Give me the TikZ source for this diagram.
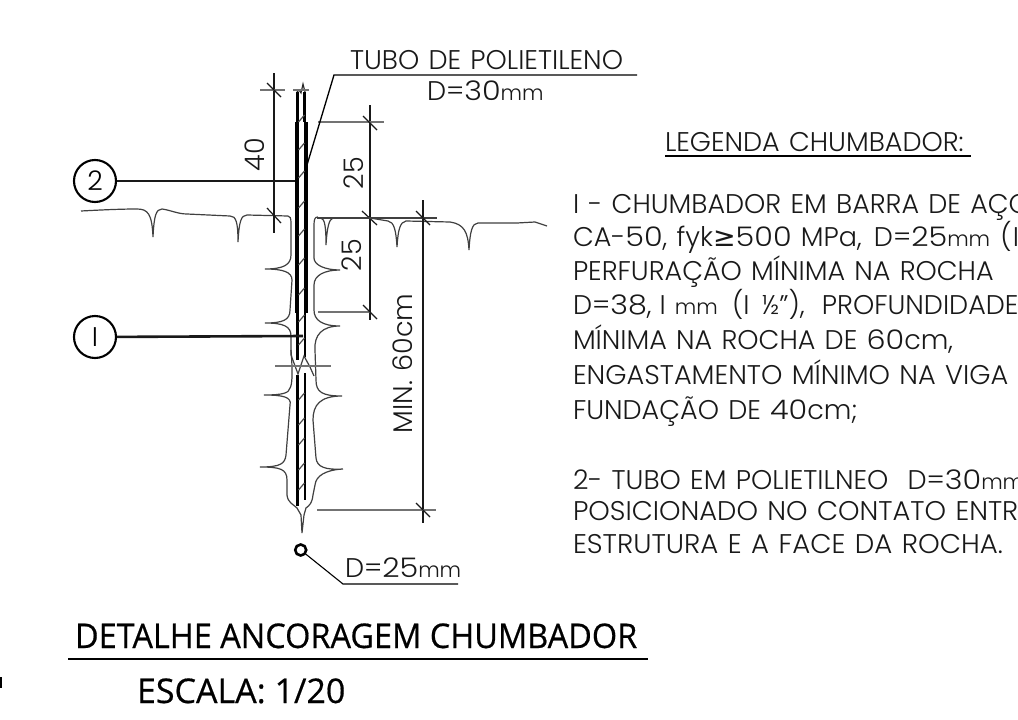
\documentclass[tikz,border=0pt]{standalone}
\usepackage{fontspec}
\usepackage{graphicx}
\setmainfont{Poppins Light}[WordSpace=1.25]
\newfontfamily\titlefont[FakeBold=0.5]{Open Sans}
\newfontfamily\symfont{DejaVu Sans}
\newcommand{\dg}[1]{\scalebox{1.12}[1]{#1}}
\newcommand{\smm}{{\fontsize{21}{21}\selectfont mm}}
\newcommand{\gesym}{{\symfont ≥}}
\tikzset{
  cad/.style={anchor=base west,inner sep=0pt,outer sep=0pt,font=\fontsize{27}{27}\selectfont,text=black!90,transform shape},
  ttl/.style={anchor=base west,inner sep=0pt,outer sep=0pt,font=\titlefont\fontsize{34}{34}\selectfont,text=black,transform shape},
  thinln/.style={line width=1.1pt,black!85},
  greyln/.style={line width=1.3pt,black!55},
  dimln/.style={line width=1.2pt,black!90},
  outln/.style={line width=1.2pt,black!75},
  heavy/.style={line width=3.6pt,black},
  mid/.style={line width=2.4pt,black},
  lead/.style={line width=2.6pt,black!90},
  hatch/.style={line width=1.2pt,black!70},
  callout/.style={circle,draw=black,line width=2.1pt,minimum size=42pt,inner sep=0pt,font=\fontsize{27}{27}\selectfont}
}
\begin{document}
\begin{tikzpicture}[x=1pt,y=-1pt]
\useasboundingbox (0,0) rectangle (1018,720);
\clip (0,0) rectangle (1018,720);
\fill[white] (0,0) rectangle (1018,720);
% stray mark at left edge
\fill[black] (0,677) rectangle (1.5,688);
% bar
\draw[mid] (297.5,92) -- (297.5,122);
\draw[mid] (304.5,92) -- (304.5,122);
\draw[thinln] (297,92) -- (299,90) -- (301,93) -- (303,84) -- (305,92);
\draw[heavy] (296.8,122) -- (296.8,313);
\draw[heavy] (306,122) -- (306,313);
\draw[mid] (297.5,313) -- (297.5,360);
\draw[mid] (305,313) -- (305,357);
\draw[mid] (297.5,375) -- (297.5,506);
\draw[mid] (305,373) -- (305,500);
\foreach \y in {122,150,178,208,236,265,295,322,345,400,425,445,470,490}
  \draw[hatch] (298.5,\y) -- (304.5,\y-7);
% crack outlines
\draw[outln] (288,216) .. controls (290,216) and (291,218) .. (291,223) -- (291,255) .. controls (291,265) and (283,269) .. (265,269)
 .. controls (283,269) and (292,272) .. (292,280) -- (290,310) .. controls (290,320) and (283,323) .. (265,323)
 .. controls (283,323) and (291,326) .. (291,336) -- (291,355) -- (298,374) -- (304,356) -- (310,367) -- (314,376);
\draw[outln] (291,350) .. controls (293,375) and (292,385) .. (290,388) .. controls (289,393) and (283,395) .. (264,395)
 .. controls (283,395) and (292,397) .. (290,405) -- (286,455) .. controls (285,464) and (280,467) .. (260,467)
 .. controls (280,467) and (287,469) .. (287,480) -- (287,495) .. controls (288,503) and (293,504) .. (297,508) -- (301,515) -- (302,533)
 -- (304,515) -- (306,508) .. controls (310,505) and (312,503) .. (313,495) -- (315,485) .. controls (316,476) and (325,470) .. (343,469)
 .. controls (325,470) and (317,467) .. (316,458) -- (313,420) .. controls (313,405) and (320,396) .. (342,396)
 .. controls (322,396) and (316,392) .. (316,380) -- (315,350) .. controls (314,335) and (322,326) .. (340,326)
 .. controls (322,326) and (314,320) .. (314,310) -- (314,285) .. controls (314,275) and (325,270) .. (340,270)
 .. controls (325,270) and (314,265) .. (314,258) -- (314,225) .. controls (314,219) and (315,217) .. (318,217);
% ground
\draw[outln] (81,211) .. controls (100,210) and (120,209) .. (137,209) .. controls (148,209) and (152,214) .. (153,237)
 .. controls (154,216) and (156,209) .. (162,209) .. controls (170,210) and (178,214) .. (187,214) -- (230,216)
 .. controls (236,216) and (238,222) .. (238,242) .. controls (239,222) and (241,215) .. (247,215) -- (288,216);
\draw[outln] (321,218) .. controls (325,219) and (326,228) .. (326,245) .. controls (327,228) and (329,219) .. (333,218);
\draw[outln] (370,218) -- (388,221) .. controls (394,222) and (396,230) .. (397,247)
 .. controls (398,230) and (400,222) .. (406,221) -- (450,222) .. controls (464,224) and (468,232) .. (469,250)
 .. controls (470,232) and (472,223) .. (478,223) -- (517,223) -- (535,222) -- (547,226);
% dimensions
\coordinate (d1a) at (274,73); \coordinate (d1b) at (274,233);
\draw[dimln] (d1a) -- (d1b);
\draw[greyln] (260,90) -- (285,90) (293,90) -- (309,90);
\draw[dimln] (267,83) -- (281,97) (267,208) -- (281,223);
\coordinate (d2a) at (370,105); \coordinate (d2b) at (370,320);
\draw[dimln] (d2a) -- (d2b);
\draw[greyln] (318,122) -- (384,122) (318,312) -- (370,312);
\draw[dimln] (363,116) -- (377,130) (362,211) -- (377,225) (363,305) -- (377,319);
\coordinate (d3a) at (423,200); \coordinate (d3b) at (423,523);
\draw[dimln] (d3a) -- (d3b);
\draw[line width=1.2pt,black!75] (317,218) -- (437,218);
\draw[greyln] (317,510) -- (436,510);
\draw[dimln] (416,211) -- (430,225) (416,503) -- (430,517);
\draw[greyln] (275,366) -- (331,366);
% callouts
\node[callout] (c2) at (95,181) {2};
\node[callout] (c1) at (95,337) {I};
\coordinate (b2) at (295,181); \coordinate (b1) at (303,336);
\draw[lead] (c2) -- (b2);
\draw[lead] (c1) -- (b1);
% leader tube
\coordinate (lt) at (334,75); \coordinate (lr) at (637,75); \coordinate (lb) at (307,165);
\draw[line width=1.3pt] (lb) -- (lt) -- (lr);
% d25
\node[circle,draw=black,line width=2.6pt,minimum size=11pt,inner sep=0pt] (o) at (300.7,550) {};
\coordinate (d25a) at (343,584); \coordinate (d25b) at (458,584);
\draw[line width=1.1pt] (o) -- (d25a) -- (d25b);
% texts
\node[cad] (t1) at (350,69) {TUBO DE POLIETILENO};
\node[cad] (t2) at (427,100) {D=\dg{30}\smm};
\node[cad] (t3) at (345,577) {D=\dg{25}\smm};
\node[cad,rotate=90] (t4) at (264,171) {40};
\node[cad,rotate=90] (t5) at (363,189) {25};
\node[cad,rotate=90] (t6) at (361,271) {25};
\node[cad,rotate=90] (t7) at (412,433) {MIN. 60cm};
\node[cad] (lg) at (665,151) {LEGENDA CHUMBADOR:};
\coordinate (ula) at (665,156); \coordinate (ulb) at (971,156);
\draw[line width=1.3pt] (ula) -- (ulb);
\node[cad] (l1) at (573,213) {I - CHUMBADOR EM BARRA DE AÇO};
\node[cad] (l2) at (573,246) {CA-\dg{50}, fyk\gesym\dg{500} MPa,\hspace{3pt} D=\dg{25}\smm\hspace{1pt} (\hspace{1pt}I};
\node[cad] (l3) at (573,280) {PERFURAÇÃO MÍNIMA NA ROCHA};
\node[cad] (l4) at (573,314) {D=\dg{38},\hspace{8pt}I \smm\hspace{5pt} (I\hspace{3pt} ½\symbol{34}),\hspace{8pt} PROFUNDIDADE};
\node[cad] (l5) at (573,349) {MÍNIMA NA ROCHA DE \dg{60}cm,};
\node[cad,xscale=1.007] (l6) at (573,384) {ENGASTAMENTO MÍNIMO NA VIGA};
\node[cad] (l7) at (573,419) {FUNDAÇÃO DE \dg{40}cm;};
\node[cad] (l8) at (573,489) {2- TUBO EM POLIETILNEO\hspace{10pt} D=\dg{30}\smm};
\node[cad,xscale=1.012] (l9) at (573,520) {POSICIONADO NO CONTATO ENTRE};
\node[cad,xscale=1.023] (l10) at (573,553) {ESTRUTURA E A FACE DA ROCHA.};
\node[ttl,xscale=.955] (ti) at (75,648) {DETALHE ANCORAGEM CHUMBADOR};
\coordinate (tla) at (68,659); \coordinate (tlb) at (648,659);
\draw[line width=2.6pt] (tla) -- (tlb);
\node[ttl] (es) at (137,703) {ESCALA: 1/20};
\end{tikzpicture}
\end{document}
